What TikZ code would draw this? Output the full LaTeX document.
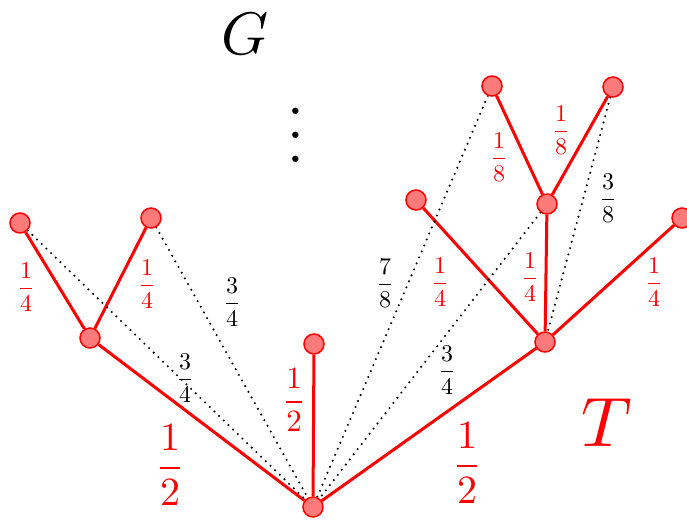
\documentclass[tikz,border=0pt]{standalone}
\usetikzlibrary{backgrounds}
\definecolor{vfill}{HTML}{FF7A7A}
\tikzset{
  vert/.style={circle, draw=red, fill=vfill, line width=1.5pt, minimum size=20pt, inner sep=0pt},
  tedge/.style={red, line width=3pt},
  gedge/.style={black, line width=2.3pt, line cap=round, dash pattern=on 0pt off 6.5pt},
  smlab/.style={scale=2.4, inner sep=0pt},
  midlab/.style={scale=3.1, inner sep=0pt, text=red},
  biglab/.style={scale=4, inner sep=0pt, text=red},
}
\begin{document}
\begin{tikzpicture}[x=1pt,y=-1pt]
\useasboundingbox (0,0) rectangle (687,520);
\clip (0,0) rectangle (687,520);
% vertices
\node[vert] (root) at (313,507) {};
\node[vert] (l) at (90,338) {};
\node[vert] (ll) at (20,223) {};
\node[vert] (lr) at (151,218) {};
\node[vert] (m) at (314,344) {};
\node[vert] (r) at (545,342) {};
\node[vert] (rm) at (547,204) {};
\node[vert] (rmt1) at (492,86) {};
\node[vert] (rmt2) at (613,87) {};
\node[vert] (rl) at (416,200) {};
\node[vert] (rr) at (682,218) {};
\begin{scope}[on background layer]
  % tree edges
  \draw[tedge] (root) -- (l);
  \draw[tedge] (l) -- (ll);
  \draw[tedge] (l) -- (lr);
  \draw[tedge] (root) -- (m);
  \draw[tedge] (root) -- (r);
  \draw[tedge] (r) -- (rl);
  \draw[tedge] (r) -- (rm);
  \draw[tedge] (r) -- (rr);
  \draw[tedge] (rm) -- (rmt1);
  \draw[tedge] (rm) -- (rmt2);
  % graph edges
  \draw[gedge] (ll) -- (root);
  \draw[gedge] (lr) -- (root);
  \draw[gedge] (rmt1) -- (root);
  \draw[gedge] (rm) -- (root);
  \draw[gedge] (rmt2) -- (r);
\end{scope}
% labels
\node[smlab, text=red] (a1) at (26,287) {$\displaystyle\frac{1}{4}$};
\node[smlab, text=red] (a2) at (147,284) {$\displaystyle\frac{1}{4}$};
\node[smlab] (b1) at (232,302) {$\displaystyle\frac{3}{4}$};
\node[smlab] (b2) at (185,378) {$\displaystyle\frac{3}{4}$};
\node[biglab] (c1) at (170,465) {$\displaystyle\frac{1}{2}$};
\node[midlab] (a3) at (294,400) {$\displaystyle\frac{1}{2}$};
\node[smlab] (b3) at (385,283) {$\displaystyle\frac{7}{8}$};
\node[smlab, text=red] (a4) at (440,282) {$\displaystyle\frac{1}{4}$};
\node[smlab] (b4) at (447,370) {$\displaystyle\frac{3}{4}$};
\node[biglab] (c2) at (467,463) {$\displaystyle\frac{1}{2}$};
\node[smlab, text=red] (a5) at (499,157) {$\displaystyle\frac{1}{8}$};
\node[smlab, text=red] (a6) at (561,130) {$\displaystyle\frac{1}{8}$};
\node[smlab] (b5) at (608,198) {$\displaystyle\frac{3}{8}$};
\node[smlab, text=red] (a7) at (530,277) {$\displaystyle\frac{1}{4}$};
\node[smlab, text=red] (a8) at (654,282) {$\displaystyle\frac{1}{4}$};
\node[scale=7, text=red, inner sep=0pt] (T) at (607,423) {$T$};
\node[scale=6, inner sep=0pt] (G) at (245,34) {$G$};
\node[scale=6, inner sep=0pt] (dots) at (296,117) {$\vdots$};
\end{tikzpicture}
\end{document}
